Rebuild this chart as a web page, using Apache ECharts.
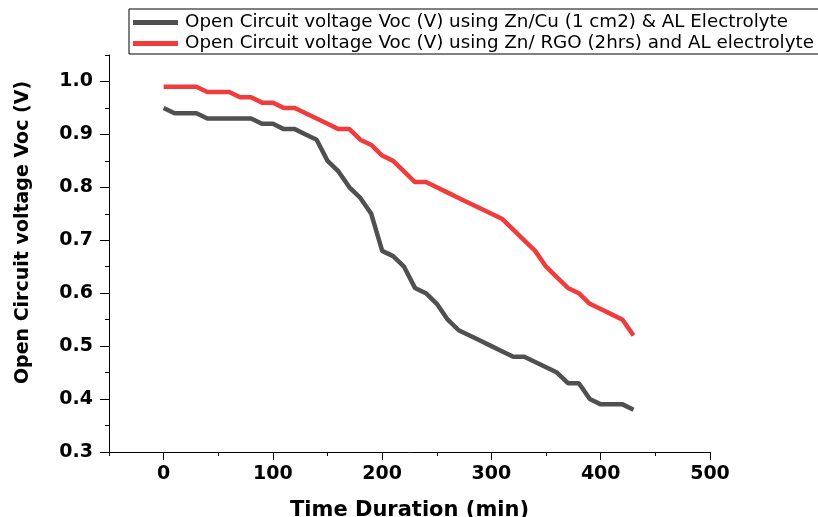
<!DOCTYPE html>
<html>
<head>
<meta charset="utf-8">
<script src="https://cdn.jsdelivr.net/npm/echarts@6/dist/echarts.min.js"></script>
<style>html,body{margin:0;padding:0;background:#fff}#c{width:818px;height:517px}</style>
</head>
<body>
<div id="c"></div>
<script>
const timeMin = [0,10,20,30,40,50,60,70,80,90,100,110,120,130,140,150,160,170,180,190,200,210,220,230,240,250,260,270,280,290,300,310,320,330,340,350,360,370,380,390,400,410,420,430];
const vocZnCu = [0.95,0.94,0.94,0.94,0.93,0.93,0.93,0.93,0.93,0.92,0.92,0.91,0.91,0.90,0.89,0.85,0.83,0.80,0.78,0.75,0.68,0.67,0.65,0.61,0.60,0.58,0.55,0.53,0.52,0.51,0.50,0.49,0.48,0.48,0.47,0.46,0.45,0.43,0.43,0.40,0.39,0.39,0.39,0.38];
const vocZnRGO = [0.99,0.99,0.99,0.99,0.98,0.98,0.98,0.97,0.97,0.96,0.96,0.95,0.95,0.94,0.93,0.92,0.91,0.91,0.89,0.88,0.86,0.85,0.83,0.81,0.81,0.80,0.79,0.78,0.77,0.76,0.75,0.74,0.72,0.70,0.68,0.65,0.63,0.61,0.60,0.58,0.57,0.56,0.55,0.52];
const xTicks = [0,100,200,300,400,500];
const xMinorTicks = [-50,50,150,250,350,450];
const yTicks = [0.3,0.4,0.5,0.6,0.7,0.8,0.9,1.0];
const yMinorTicks = [0.35,0.45,0.55,0.65,0.75,0.85,0.95,1.05];
const seriesNames = ['Open Circuit voltage Voc (V) using Zn/Cu (1 cm2) & AL Electrolyte','Open Circuit voltage Voc (V) using Zn/ RGO (2hrs) and AL electrolyte'];

const chart = echarts.init(document.getElementById('c'), null, {renderer:'canvas'});
const font = 'DejaVu Sans, Liberation Sans, Arial, sans-serif';
const lab = {fontFamily:font, fontWeight:'bold', fontSize:19, color:'#000'};
chart.setOption({
  animation:false,
  backgroundColor:'#fff',
  grid:{left:109, right:108, top:55, bottom:65, containLabel:false, outerBoundsMode:'none'},
  legend:{
    orient:'vertical', left:129, top:9,
    borderColor:'#000', borderWidth:1, padding:[3,16,0,4], itemGap:0,
    icon:'rect', itemWidth:45, itemHeight:5,
    textStyle:{fontFamily:font, fontSize:18.3, lineHeight:21, color:'#000', padding:[0,0,0,2]},
    data:seriesNames
  },
  xAxis:[{
    type:'value', min:-50, max:500,
    name:'Time Duration (min)', nameLocation:'middle', nameGap:48,
    nameTextStyle:{fontFamily:font, fontWeight:'bold', fontSize:21, color:'#000'},
    axisLine:{show:true, onZero:false, lineStyle:{color:'#000', width:1}},
    axisTick:{show:true, customValues:xTicks, length:8, lineStyle:{color:'#000'}},
    axisLabel:{customValues:xTicks, margin:13, ...lab},
    splitLine:{show:false}
  },{
    type:'value', min:-50, max:500, position:'bottom',
    axisLine:{show:false, onZero:false},
    axisTick:{show:true, customValues:xMinorTicks, length:4, lineStyle:{color:'#000'}},
    axisLabel:{show:false}, splitLine:{show:false}
  }],
  yAxis:[{
    type:'value', min:0.3, max:1.05,
    name:'Open Circuit voltage Voc (V)', nameLocation:'middle', nameGap:76,
    nameTextStyle:{fontFamily:font, fontWeight:'bold', fontSize:19, color:'#000', padding:[0,0,0,42]},
    axisLine:{show:true, onZero:false, lineStyle:{color:'#000', width:1}},
    axisTick:{show:true, customValues:yTicks, length:9, lineStyle:{color:'#000'}},
    axisLabel:{customValues:yTicks, margin:16, formatter:v=>v.toFixed(1), ...lab},
    splitLine:{show:false}
  },{
    type:'value', min:0.3, max:1.05, position:'left',
    axisLine:{show:false, onZero:false},
    axisTick:{show:true, customValues:yMinorTicks, length:4, lineStyle:{color:'#000'}},
    axisLabel:{show:false}, splitLine:{show:false}
  }],
  series:[
    {name:seriesNames[0], type:'line', data:timeMin.map((t,i)=>[t,vocZnCu[i]]), showSymbol:false, symbol:'none',
     lineStyle:{color:'#505050', width:4.5}, itemStyle:{color:'#505050'}},
    {name:seriesNames[1], type:'line', data:timeMin.map((t,i)=>[t,vocZnRGO[i]]), showSymbol:false, symbol:'none',
     lineStyle:{color:'#f03c3c', width:4.5}, itemStyle:{color:'#f03c3c'}}
  ]
});
</script>
</body>
</html>
